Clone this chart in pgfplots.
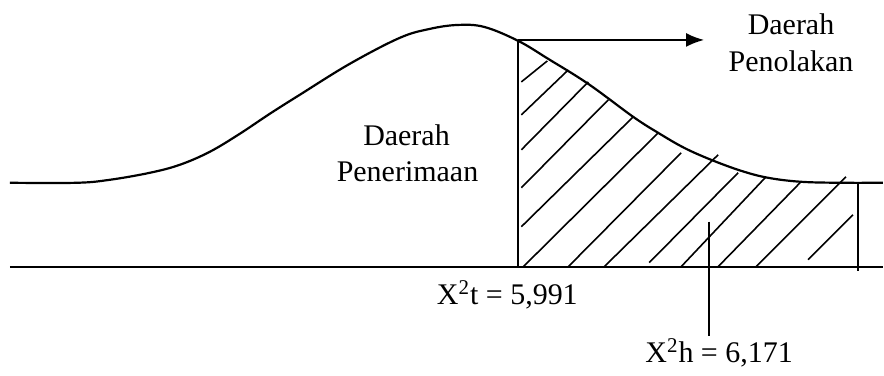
\documentclass[border=0pt]{standalone}
\usepackage{fontspec}
\setmainfont{Liberation Serif}
\usepackage{pgfplots}
\pgfplotsset{compat=1.18}
\usetikzlibrary{arrows.meta}
\pgfplotsset{hatch/.style={black, line width=0.8pt, forget plot}}
\begin{document}
\begin{tikzpicture}
\begin{axis}[scale only axis, width=442pt, height=188pt,
  xmin=0, xmax=884, ymin=0, ymax=376, y dir=reverse, hide axis, clip=false]
% invisible frame points so the picture keeps the full canvas
\addplot[draw=none, forget plot] coordinates {(0,0)(884,376)};
% density curve
\addplot[black, line width=1.1pt, smooth, tension=0.6] coordinates {
(10,183)(77,183)(110,180)(150,173)(180,165)(210,152)(240,134)(270,114)(300,95)(350,64)(400,38)(430,29)(458,25)(485,27)(519,41)(549,59)(589,84)(634,117)(659,133)(685,148)(712,160)(742,171)(769,178)(802,182)(842,183)(884,183)};
% baseline
\addplot[black, line width=1.1pt] coordinates {(10,267)(884,267)};
% critical value line
\addplot[black, line width=1pt] coordinates {(519,40)(519,267)};
% right end line
\addplot[black, line width=1pt] coordinates {(859,182)(859,271)};
% computed value line
\addplot[black, line width=1pt] coordinates {(710,222)(710,336)};
% arrow
\addplot[black, line width=1pt, -{Latex[length=9pt,width=7pt]}] coordinates {(519,40)(705,40)};
% hatching
\addplot[hatch] coordinates {(522,82)(548,61)};
\addplot[hatch] coordinates {(522,115)(569,70)};
\addplot[hatch] coordinates {(522,150)(589,82)};
\addplot[hatch] coordinates {(522,188)(609,100)};
\addplot[hatch] coordinates {(522,227)(634,117)};
\addplot[hatch] coordinates {(524,267)(659,133)};
\addplot[hatch] coordinates {(569,267)(682,153)};
\addplot[hatch] coordinates {(605,267)(719,155)};
\addplot[hatch] coordinates {(650,263)(739,173)};
\addplot[hatch] coordinates {(682,267)(767,177)};
\addplot[hatch] coordinates {(719,267)(802,182)};
\addplot[hatch] coordinates {(757,267)(847,177)};
\addplot[hatch] coordinates {(809,260)(854,215)};
% labels
\begin{scope}[every node/.style={font=\fontsize{15}{18}\selectfont, inner sep=0pt, anchor=base}]
\node at (axis cs:792,35) {Daerah};
\node at (axis cs:792,72) {Penolakan};
\node at (axis cs:407,146) {Daerah};
\node at (axis cs:408,182) {Penerimaan};
\node at (axis cs:508,305) {X\textsuperscript{2}t = 5,991};
\node at (axis cs:720,363) {X\textsuperscript{2}h = 6,171};
\end{scope}
\end{axis}
\end{tikzpicture}
\end{document}
